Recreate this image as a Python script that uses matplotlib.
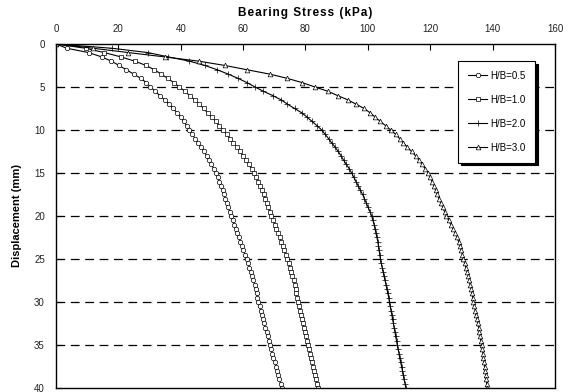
import matplotlib
matplotlib.use("Agg")
import matplotlib.pyplot as plt

plt.rcParams['font.family'] = ['Liberation Sans', 'DejaVu Sans']

# Displacement readings (mm), recorded every 0.5 mm
displacement = [
    0, 0.5, 1, 1.5, 2, 2.5, 3, 3.5, 4, 4.5, 5, 5.5, 6, 6.5, 7, 7.5, 8, 8.5, 9, 9.5,
    10, 10.5, 11, 11.5, 12, 12.5, 13, 13.5, 14, 14.5, 15, 15.5, 16, 16.5, 17, 17.5,
    18, 18.5, 19, 19.5, 20, 20.5, 21, 21.5, 22, 22.5, 23, 23.5, 24, 24.5, 25, 25.5,
    26, 26.5, 27, 27.5, 28, 28.5, 29, 29.5, 30, 30.5, 31, 31.5, 32, 32.5, 33, 33.5,
    34, 34.5, 35, 35.5, 36, 36.5, 37, 37.5, 38, 38.5, 39, 39.5, 40,
]

# Bearing stress (kPa) for each embedment ratio
stress_hb05 = [
    0, 3.5, 10.5, 14.6, 17.8, 20.2, 22.6, 24.9, 27.2, 29.0, 30.3, 31.8, 33.3, 34.8,
    36.3, 37.6, 38.8, 40.0, 41.0, 41.9, 42.8, 43.7, 44.6, 45.5, 46.6, 47.5, 48.3,
    49.1, 49.8, 50.6, 51.3, 51.9, 52.4, 52.9, 53.4, 53.8, 54.3, 54.8, 55.2, 55.7,
    56.1, 56.6, 57.1, 57.6, 58.1, 58.6, 59.1, 59.6, 60.1, 60.6, 61.1, 61.5, 62.0,
    62.4, 62.9, 63.3, 63.7, 64.0, 64.3, 64.6, 64.9, 65.3, 65.6, 66.0, 66.4, 66.8,
    67.1, 67.5, 67.9, 68.2, 68.6, 69.0, 69.3, 69.7, 70.1, 70.5, 70.9, 71.3, 71.6,
    72.0, 72.4,
]
stress_hb10 = [
    0, 9.5, 15.5, 20.8, 25.3, 28.9, 31.5, 33.8, 35.8, 37.8, 39.6, 41.3, 42.9, 44.5,
    46.0, 47.3, 48.6, 49.9, 51.2, 52.4, 53.6, 54.7, 55.8, 56.9, 58.0, 59.0, 60.0,
    60.9, 61.8, 62.7, 63.5, 64.2, 64.9, 65.5, 66.1, 66.6, 67.1, 67.6, 68.1, 68.6,
    69.1, 69.6, 70.2, 70.7, 71.2, 71.7, 72.2, 72.7, 73.2, 73.7, 74.2, 74.6, 75.0,
    75.4, 75.8, 76.2, 76.5, 76.8, 77.1, 77.4, 77.7, 78.0, 78.3, 78.6, 78.9, 79.2,
    79.5, 79.9, 80.2, 80.5, 80.8, 81.1, 81.4, 81.7, 82.0, 82.3, 82.7, 83.0, 83.3,
    83.6, 83.9,
]
stress_hb20 = [
    0, 18.0, 29.5, 36.0, 42.8, 47.8, 51.7, 55.2, 58.4, 61.3, 63.8, 66.5, 69.5, 72.2,
    74.2, 76.5, 78.8, 80.5, 82.1, 83.7, 85.2, 86.3, 87.4, 88.4, 89.5, 90.5, 91.4,
    92.2, 93.1, 94.0, 94.8, 95.5, 96.2, 96.9, 97.6, 98.3, 98.9, 99.5, 100.1, 100.7,
    101.2, 101.6, 102.0, 102.3, 102.6, 102.9, 103.2, 103.4, 103.6, 103.8, 104.0,
    104.3, 104.6, 104.9, 105.2, 105.5, 105.8, 106.1, 106.4, 106.7, 106.9, 107.2,
    107.4, 107.7, 107.9, 108.2, 108.4, 108.7, 108.9, 109.2, 109.4, 109.7, 110.0,
    110.2, 110.5, 110.8, 111.1, 111.4, 111.6, 111.9, 112.2,
]
stress_hb30 = [
    0, 12.0, 23.2, 34.8, 45.8, 54.2, 61.3, 68.5, 74.2, 79.0, 83.0, 87.2, 90.3, 93.6,
    96.2, 98.8, 100.7, 102.3, 104.0, 105.7, 107.3, 108.9, 110.2, 111.4, 112.7, 114.0,
    115.3, 116.4, 117.4, 118.4, 119.4, 120.0, 120.6, 121.2, 121.7, 122.3, 122.8,
    123.4, 124.0, 124.6, 125.2, 125.9, 126.6, 127.3, 128.0, 128.6, 129.1, 129.5,
    129.9, 130.3, 130.6, 131.0, 131.4, 131.8, 132.2, 132.5, 132.8, 133.1, 133.3,
    133.6, 133.8, 134.1, 134.4, 134.7, 135.0, 135.2, 135.5, 135.7, 136.0, 136.2,
    136.5, 136.7, 136.9, 137.0, 137.2, 137.4, 137.6, 137.8, 137.9, 138.1, 138.3,
]

series_labels = ["H/B=0.5", "H/B=1.0", "H/B=2.0", "H/B=3.0"]
x_ticks = [0, 20, 40, 60, 80, 100, 120, 140, 160]
y_ticks = [0, 5, 10, 15, 20, 25, 30, 35, 40]
x_title = "Bearing Stress (kPa)"
y_title = "Displacement (mm)"

fig = plt.figure(figsize=(5.70, 3.92), dpi=100)
ax = fig.add_axes([0.0982, 0.0102, 0.8755, 0.8776])

styles = [
    dict(marker='o', markersize=3.2, markerfacecolor='white'),
    dict(marker='s', markersize=3.4, markerfacecolor='white'),
    dict(marker='+', markersize=4.2),
    dict(marker='^', markersize=3.4, markerfacecolor='white'),
]
for vals, lab, st in zip([stress_hb05, stress_hb10, stress_hb20, stress_hb30],
                         series_labels, styles):
    ax.plot(vals, displacement, color='black', linewidth=0.8,
            markeredgecolor='black', markeredgewidth=0.5, label=lab, **st)

# dashed horizontal reference lines
for yv in y_ticks[1:-1]:
    ax.axhline(yv, color='black', linewidth=0.9, linestyle=(0, (7, 4.5)), zorder=0)

ax.set_xlim(0, 160)
ax.set_ylim(40, 0)
ax.set_xticks(x_ticks)
ax.set_yticks(y_ticks)
ax.xaxis.tick_top()
ax.xaxis.set_label_position('top')
ax.tick_params(axis='both', direction='in', length=4, width=0.8,
               labelsize=7, colors='black')
ax.tick_params(axis='x', pad=7, labelcolor='#222222')
ax.tick_params(axis='y', pad=8, labelcolor='#222222')

# widely tracked axis title: hair spaces between the letters
ax.set_xlabel("\u200a".join(x_title), fontsize=8.5, fontweight='bold', labelpad=6)
ax.set_ylabel(y_title, fontsize=8, fontweight='bold', labelpad=9)

for sp in ax.spines.values():
    sp.set_linewidth(1.0)
    sp.set_color('black')

leg = ax.legend(loc='upper left', bbox_to_anchor=(0.806, 0.951), fontsize=7,
                frameon=True, fancybox=False, handlelength=2.0,
                labelspacing=1.45, borderpad=1.0, handletextpad=0.3,
                borderaxespad=0.0,
                shadow={'color': 'black', 'alpha': 1.0, 'ox': 2, 'oy': -2})
leg.get_frame().set_edgecolor('black')
leg.get_frame().set_linewidth(0.8)

fig.savefig("out.png", dpi=100)
